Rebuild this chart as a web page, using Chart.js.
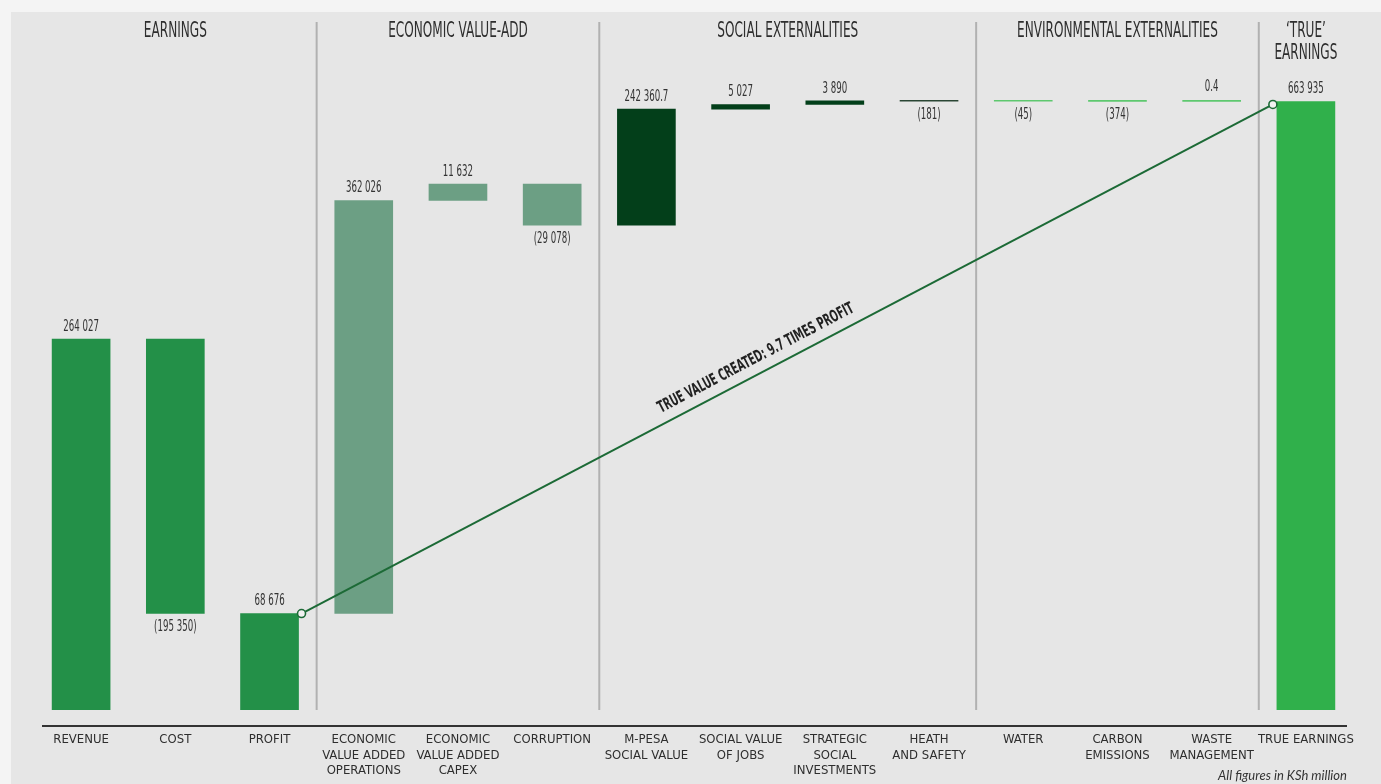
<!DOCTYPE html>
<html>
<head>
<meta charset="utf-8">
<script src="https://cdn.jsdelivr.net/npm/chart.js@4.4.1/dist/chart.umd.min.js"></script>
<style>
  html, body { margin: 0; padding: 0; background: #f4f4f4; }
  #wrap { width: 1381px; height: 784px; position: relative; }
</style>
</head>
<body>
<div id="wrap"><canvas id="chart"></canvas></div>
<script>
// ---- data (KSh million) ----
const categories = [
  ['REVENUE'], ['COST'], ['PROFIT'],
  ['ECONOMIC', 'VALUE ADDED', 'OPERATIONS'], ['ECONOMIC', 'VALUE ADDED', 'CAPEX'], ['CORRUPTION'],
  ['M-PESA', 'SOCIAL VALUE'], ['SOCIAL VALUE', 'OF JOBS'], ['STRATEGIC', 'SOCIAL', 'INVESTMENTS'], ['HEATH', 'AND SAFETY'],
  ['WATER'], ['CARBON', 'EMISSIONS'], ['WASTE', 'MANAGEMENT'],
  ['TRUE EARNINGS']
];
const values = [264027, -195350, 68676, 362026, 11632, -29078, 242360.7, 5027, 3890, -181, -45, -374, 0.4, 663935];
// totals start from zero, the rest step on from the running sum
const isTotal = [true, false, true, false, false, false, false, false, false, false, false, false, false, true];

const groupTitles = [['EARNINGS'], ['ECONOMIC VALUE-ADD'], ['SOCIAL EXTERNALITIES'], ['ENVIRONMENTAL EXTERNALITIES'], ['\u2018TRUE\u2019', 'EARNINGS']];
const groupFirst = [0, 3, 6, 10, 13];
const lineNote = 'TRUE VALUE CREATED: 9.7 TIMES PROFIT';
const footNote = 'All figures in KSh million';

// ---- colours ----
const barColors = [
  '#239048', '#239048', '#239048',
  '#6c9f84', '#6c9f84', '#6c9f84',
  '#033f1a', '#033f1a', '#033f1a', '#2a4634',
  '#5ec86f', '#5ec86f', '#5ec86f',
  '#30b04b'
];

const FONT = '"Liberation Sans Narrow", "DejaVu Sans Condensed", "Liberation Sans", sans-serif';

// floating bars from the running total
let running = 0;
const floating = values.map((v, i) => {
  if (isTotal[i]) { running = v; return [0, v]; }
  const start = running;
  running += v;
  return [start, running];
});

function fmt(v) {
  let [int, dec] = String(Math.abs(v)).split('.');
  int = int.replace(/\B(?=(\d{3})+(?!\d))/g, ' ');
  const s = dec ? int + '.' + dec : int;
  return v < 0 ? '(' + s + ')' : s;
}

// the original graphic is not drawn to scale: the value axis is squeezed in steps
const stopValues = [0, 264027, 413257, 442335, 655618, 664535, 670000];
const stopShare  = [0, 0.608, 0.795, 0.862, 0.985, 0.9985, 1];

function shareOf(v) {
  if (v <= stopValues[0]) return 0;
  for (let i = 1; i < stopValues.length; i++) {
    if (v <= stopValues[i]) {
      const t = (v - stopValues[i - 1]) / (stopValues[i] - stopValues[i - 1]);
      return stopShare[i - 1] + t * (stopShare[i] - stopShare[i - 1]);
    }
  }
  return 1;
}
function valueOf(s) {
  for (let i = 1; i < stopShare.length; i++) {
    if (s <= stopShare[i]) {
      const t = (s - stopShare[i - 1]) / (stopShare[i] - stopShare[i - 1]);
      return stopValues[i - 1] + t * (stopValues[i] - stopValues[i - 1]);
    }
  }
  return stopValues[stopValues.length - 1];
}

class SteppedScale extends Chart.LinearScale {
  getPixelForValue(value) {
    return this.bottom - shareOf(value) * (this.bottom - this.top);
  }
  getValueForPixel(pixel) {
    return valueOf((this.bottom - pixel) / (this.bottom - this.top));
  }
}
SteppedScale.id = 'stepped';
SteppedScale.defaults = Chart.LinearScale.defaults;
Chart.register(SteppedScale);

// squeeze factor so the sans font looks like the condensed original
let squeeze = 1;
function text(ctx, str, x, y, size, opt) {
  opt = opt || {};
  ctx.save();
  ctx.font = (opt.italic ? 'italic ' : '') + (opt.bold ? 'bold ' : '') + size + 'px ' + (opt.family || FONT);
  ctx.translate(x, y);
  if (opt.angle) ctx.rotate(opt.angle);
  ctx.scale(opt.sx || squeeze, 1);
  ctx.textAlign = opt.align || 'center';
  ctx.textBaseline = 'middle';
  ctx.fillStyle = opt.color || '#333';
  ctx.fillText(str, 0, 0);
  ctx.restore();
}

const decor = {
  id: 'decor',
  beforeDraw(chart) {
    const c = chart.ctx;
    c.save();
    c.fillStyle = '#f4f4f4';
    c.fillRect(0, 0, chart.width, chart.height);
    c.fillStyle = '#e6e6e6';
    c.fillRect(11, 12, chart.width - 11, chart.height - 12);
    c.font = '100px ' + FONT;
    squeeze = Math.min(1, 300 / c.measureText('EARNINGS').width);
    c.restore();
  },
  afterDatasetsDraw(chart) {
    const c = chart.ctx;
    const xs = chart.scales.x;
    const area = chart.chartArea;
    const bars = chart.getDatasetMeta(0).data;

    // section separators and headings
    c.save();
    c.strokeStyle = '#b1b1b1';
    c.lineWidth = 2;
    groupFirst.forEach((first, g) => {
      if (g > 0) {
        const x = (xs.getPixelForValue(first - 1) + xs.getPixelForValue(first)) / 2;
        c.beginPath();
        c.moveTo(x, 22);
        c.lineTo(x, area.bottom);
        c.stroke();
      }
      const last = g < groupFirst.length - 1 ? groupFirst[g + 1] - 1 : categories.length - 1;
      const cx = (xs.getPixelForValue(first) + xs.getPixelForValue(last)) / 2;
      groupTitles[g].forEach((line, k) => text(c, line, cx, 32 + k * 22, 21, { color: '#2e2e2e' }));
    });

    // base line
    c.strokeStyle = '#333';
    c.lineWidth = 2;
    c.beginPath();
    c.moveTo(area.left + 8, area.bottom + 16);
    c.lineTo(area.right - 6, area.bottom + 16);
    c.stroke();
    c.restore();

    // value labels
    bars.forEach((bar, i) => {
      const top = Math.min(bar.y, bar.base);
      const bottom = Math.max(bar.y, bar.base);
      if (values[i] >= 0) text(c, fmt(values[i]), bar.x, top - 12, 15);
      else text(c, fmt(values[i]), bar.x, bottom + 14, 15);
    });

    // profit -> true earnings link
    const p = bars[2], t = bars[bars.length - 1];
    const x1 = p.x + p.width / 2 + 3, y1 = p.y;
    const x2 = t.x - t.width / 2 - 4, y2 = t.y + 3;
    c.save();
    c.strokeStyle = '#1c6a36';
    c.lineWidth = 2;
    c.beginPath();
    c.moveTo(x1, y1);
    c.lineTo(x2, y2);
    c.stroke();
    c.fillStyle = '#f2f2f2';
    c.lineWidth = 1.6;
    [[x1, y1], [x2, y2]].forEach(([x, y]) => {
      c.beginPath();
      c.arc(x, y, 4, 0, Math.PI * 2);
      c.fill();
      c.stroke();
    });
    c.restore();

    const ang = Math.atan2(y2 - y1, x2 - x1);
    const at = 0.475;
    const mx = x1 + (x2 - x1) * at, my = y1 + (y2 - y1) * at;
    const off = 15;
    text(c, lineNote, mx + Math.sin(ang) * off, my - Math.cos(ang) * off, 16.5, { bold: true, angle: ang, color: '#222' });

    // footnote
    text(c, footNote, area.right - 6, 776, 13, { italic: true, align: 'right', family: 'Lato, "Open Sans", sans-serif', sx: 1 });
  }
};

new Chart(document.getElementById('chart'), {
  type: 'bar',
  data: {
    labels: categories,
    datasets: [{
      data: floating,
      backgroundColor: barColors,
      barThickness: 58,
      minBarLength: 2,
      borderSkipped: false,
      borderWidth: 0
    }]
  },
  options: {
    responsive: true,
    maintainAspectRatio: false,
    animation: false,
    layout: { padding: { top: 100, left: 34, right: 28, bottom: 0 } },
    plugins: {
      legend: { display: false },
      tooltip: { enabled: false }
    },
    scales: {
      x: {
        grid: { display: false, drawTicks: false },
        border: { display: false },
        afterFit(scale) { scale.height = 74; },
        ticks: {
          padding: 22,
          color: '#2e2e2e',
          autoSkip: false,
          maxRotation: 0,
          font: { family: FONT, size: 13, lineHeight: 1.2 }
        }
      },
      y: { type: 'stepped', min: 0, max: 670000, display: false }
    }
  },
  plugins: [decor]
});
</script>
</body>
</html>
